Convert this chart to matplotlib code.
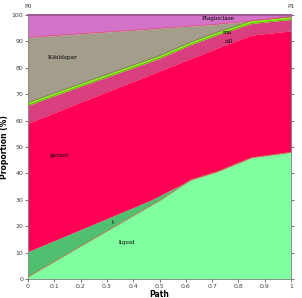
import numpy as np
import matplotlib.pyplot as plt

# path positions and cumulative tops of each phase (%)
path = [0, 0.2, 0.47, 0.505, 0.62, 0.72, 0.85, 1.0]
liquid_top = [0.8, 12.4, 28.0, 30.0, 37.6, 40.7, 46.0, 48.0]
t_top = [10.4, 18.7, 30.0, 31.8, 37.6, 40.7, 46.0, 48.0]
garnet_top = [59.0, 67.0, 77.6, 79.0, 83.5, 87.5, 92.4, 94.0]
musill_top = [65.8, 73.0, 82.5, 83.8, 88.8, 92.5, 96.8, 98.3]
green_top = [66.8, 74.0, 83.5, 84.8, 89.8, 93.5, 97.8, 99.3]
kfs_top = [91.5, 92.9, 94.7, 95.0, 95.8, 96.5, 97.8, 99.3]
plag_top = [100] * 8

layers = [
    ("liquid", None, liquid_top, "#80ffa0"),
    ("t", liquid_top, t_top, "#50c070"),
    ("garnet", t_top, garnet_top, "#ff0055"),
    ("mu sill", garnet_top, musill_top, "#d84080"),
    ("green", musill_top, green_top, "#80ff00"),
    ("K-feldspar", green_top, kfs_top, "#a39e8c"),
    ("Plagioclase", kfs_top, plag_top, "#d272c8"),
]

fig = plt.figure(figsize=(3.02, 2.98), dpi=100)
ax = fig.add_axes([0.0927, 0.0638, 0.8709, 0.8859])

for name, lo, hi, col in layers:
    lo = np.zeros(len(path)) if lo is None else lo
    ax.fill_between(path, lo, hi, color=col, lw=0)

# thin edges between phases
ax.plot(path, liquid_top, color="#c08050", lw=0.6)
ax.plot(path, garnet_top, color="#e0306a", lw=0.4)
ax.plot(path, musill_top, color="#708020", lw=0.5)
ax.plot(path, green_top, color="#708020", lw=0.5)
ax.plot(path, kfs_top, color="#e05060", lw=0.5)

fs = 4.2
ax.text(0.722, 98.5, "Plagioclase", fontsize=fs, family="DejaVu Serif", ha="center", va="center")
ax.text(0.757, 93.2, "mu", fontsize=fs, family="DejaVu Serif", ha="center", va="center")
ax.text(0.762, 90.1, "sill", fontsize=fs, family="DejaVu Serif", ha="center", va="center")
ax.text(0.133, 84.0, "K-feldspar", fontsize=fs, family="DejaVu Serif", ha="center", va="center")
ax.text(0.118, 46.7, "garnet", fontsize=fs, family="DejaVu Serif", ha="center", va="center")
ax.text(0.323, 21.3, "t", fontsize=fs, family="DejaVu Serif", ha="center", va="center")
ax.text(0.376, 13.7, "liquid", fontsize=fs, family="DejaVu Serif", ha="center", va="center")
ax.text(0.0, 102.3, "P0", fontsize=4.5, color="#404040", ha="center", va="bottom")
ax.text(1.0, 102.3, "P1", fontsize=4.5, color="#404040", ha="center", va="bottom")

ax.set_xlim(0, 1)
ax.set_ylim(0, 100)
ax.set_xticks(np.arange(0, 1.01, 0.1))
ax.set_xticklabels(["0", "0.1", "0.2", "0.3", "0.4", "0.5", "0.6", "0.7", "0.8", "0.9", "1"])
ax.set_yticks(np.arange(0, 101, 10))
ax.tick_params(labelsize=4.5, length=2, width=0.5, colors="#404040", pad=1.5, direction="out",
               right=True)
ax.set_xlabel("Path", fontsize=5.5, fontweight="bold", labelpad=0.5)
ax.set_ylabel("Proportion (%)", fontsize=5.5, fontweight="bold", labelpad=2)
for s in ["left", "bottom", "right"]:
    ax.spines[s].set_color("#808080")
    ax.spines[s].set_linewidth(0.6)
ax.spines["top"].set_color("#a05a9a")
ax.spines["top"].set_linewidth(1.5)

fig.savefig("out.png", dpi=100)
